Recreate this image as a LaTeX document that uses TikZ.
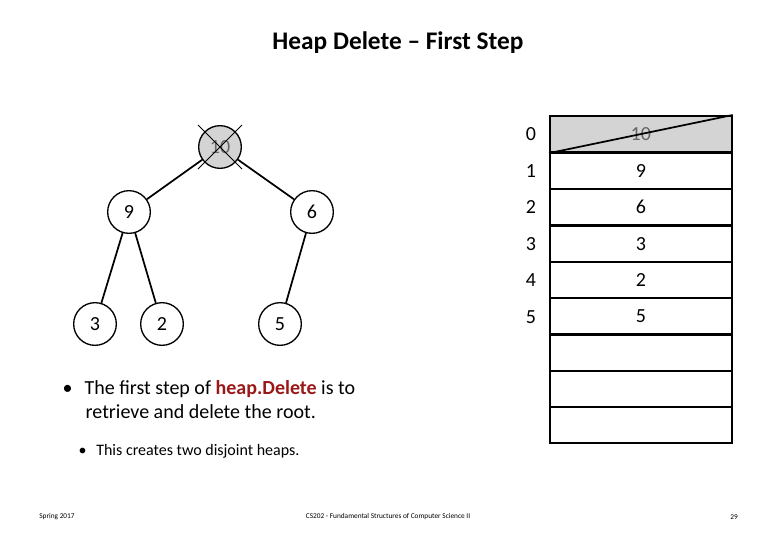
\documentclass[tikz,border=0pt]{standalone}
\usepackage{fontspec}
\setmainfont{Carlito}
\begin{document}
\begin{tikzpicture}[x=0.75pt,y=-0.75pt,
  hn/.style={circle,draw,line width=1pt,minimum size=32pt,inner sep=0pt,font=\fontsize{15}{15}\selectfont},
  cell/.style={draw,line width=1.3pt,minimum width=136.5pt,minimum height=27.3pt,inner sep=0pt,anchor=north west,font=\fontsize{15}{15}\selectfont},
  idx/.style={font=\fontsize{15}{15}\selectfont},
  edge/.style={line width=1.3pt}]
\useasboundingbox (0,0) rectangle (780,540);
\node[font=\bfseries\fontsize{19}{19}\selectfont] (title) at (398,43) {Heap Delete -- First Step};
\node[hn,fill=black!17,text=black!60] (r) at (220,147) {10};
\draw[line width=0.7pt] (r.center) ++(-22,-22) -- ++(44,44);
\draw[line width=0.7pt] (r.center) ++(22,-22) -- ++(-44,44);
\node[hn] (n9) at (129,212) {9};
\node[hn] (n6) at (312,212) {6};
\node[hn] (n3) at (95,324) {3};
\node[hn] (n2) at (162,324) {2};
\node[hn] (n5) at (280,324) {5};
\draw[edge] (r)--(n9); \draw[edge] (r)--(n6);
\draw[edge] (n9)--(n3); \draw[edge] (n9)--(n2); \draw[edge] (n6)--(n5);
\foreach \i/\v/\y in {1/9/152,2/6/188,3/3/225,4/2/261,5/5/297,6//334,7//370,8//406}{
  \node[cell] (c\i) at (549,\y) {\v};
}
\node[cell,fill=black!17,text=black!60] (c0) at (549,115) {10};
\draw[line width=1.3pt] (c0.south west)--(c0.north east);
\foreach \i/\y in {0/134,1/171,2/207,3/244,4/280,5/317}{
  \node[idx] (i\i) at (531,\y) {\i};
}
\node[anchor=west,font=\fontsize{15}{18}\selectfont,align=left] (b1) at (58,400)
  {\textbullet\hspace{0.6em}The first step of \textcolor[rgb]{0.6,0.1,0.1}{\textbf{heap.Delete}} is to\\\hspace{1.15em}retrieve and delete the root.};
\node[anchor=west,font=\fontsize{12}{14}\selectfont] (b2) at (74,451)
  {\textbullet\hspace{0.6em}This creates two disjoint heaps.};
\node[font=\fontsize{5.5}{6}\selectfont] (f1) at (57,517) {Spring 2017};
\node[font=\fontsize{5.5}{6}\selectfont] (f2) at (388,517) {CS202 - Fundamental Structures of Computer Science II};
\node[font=\fontsize{5.5}{6}\selectfont] (f3) at (734,517) {29};
\end{tikzpicture}
\end{document}
